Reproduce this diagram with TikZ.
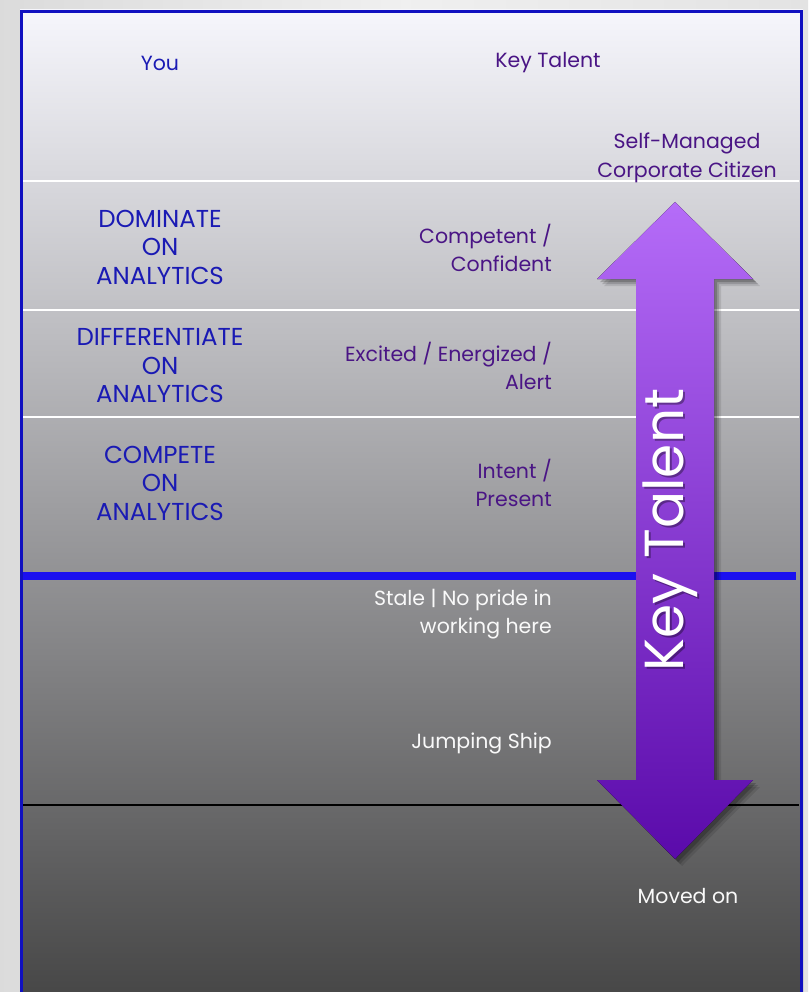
\documentclass[tikz,border=0pt]{standalone}
\usepackage{fontspec}
\setmainfont{Poppins}
\definecolor{bluetxt}{HTML}{1A1AB4}
\definecolor{purtxt}{HTML}{4A1585}
\definecolor{frameblue}{HTML}{1010C0}
\definecolor{linblue}{HTML}{1A10F0}
\definecolor{arrtop}{HTML}{B56CF8}
\definecolor{arrmid}{HTML}{8C18EC}
\definecolor{arrbot}{HTML}{5A0AAA}
\begin{document}
\begin{tikzpicture}[x=1pt,y=-1pt,
  txt/.style={font=\fontsize{20.5}{28.5}\selectfont, inner sep=0pt},
  captxt/.style={font=\fontsize{24.5}{28.5}\selectfont, inner sep=0pt, text=bluetxt, align=center},
  youtxt/.style={txt, text=bluetxt, align=center},
  keytxt/.style={txt, text=purtxt, align=right, anchor=east},
  keyc/.style={txt, text=purtxt, align=center},
  lowtxt/.style={txt, text=white!95!gray, align=right, anchor=east},
  sep/.style={white, line width=2.5pt}]
\useasboundingbox (0,0) rectangle (808,992);
% outer background
\fill[left color=gray!28, right color=gray!22, middle color=gray!12] (0,0) rectangle (808,992);
% panel
\fill[top color={rgb,255:red,246;green,246;blue,252}, bottom color={rgb,255:red,70;green,70;blue,70}] (20,10) rectangle (803,1000);
\draw[frameblue, line width=3pt] (21.5,1000) -- (21.5,11.5) -- (801.5,11.5) -- (801.5,1000);
% separators
\draw[sep] (23,181) -- (799,181);
\draw[sep] (23,310) -- (799,310);
\draw[sep] (23,417) -- (799,417);
\draw[linblue, line width=7.5pt] (23,576) -- (796,576);
\draw[black, line width=1.8pt] (23,805) -- (799,805);
% headers
\node[youtxt] (you) at (160,63) {You};
\node[keyc] (key) at (548,63) {Key Talent};
\node[keyc] (self) at (687,158) {Self-Managed\\Corporate Citizen};
% left column
\node[captxt] (dom) at (160,247) {DOMINATE\\ON\\ANALYTICS};
\node[captxt] (dif) at (160,366) {DIFFERENTIATE\\ON\\ANALYTICS};
\node[captxt] (com) at (160,483) {COMPETE\\ON\\ANALYTICS};
% key talent column
\node[keytxt] (cc) at (552,248) {Competent /\\Confident};
\node[keytxt] (ee) at (552,366) {Excited / Energized /\\Alert};
\node[keytxt] (ip) at (552,483) {Intent /\\Present};
\node[lowtxt] (st) at (552,614) {Stale | No pride in\\working here};
\node[lowtxt] (js) at (552,743) {Jumping Ship};
\node[txt, text=white!95!gray] (mo) at (688,896) {Moved on};
% arrow shadow
\foreach \d/\o in {7/0.10,5/0.15,3/0.2}{
\fill[black, opacity=\o, shift={(\d,\d)}] (675,202) -- (753,279) -- (714,279) -- (714,780) -- (753,780) -- (675,859) -- (597,780) -- (636,780) -- (636,279) -- (597,279) -- cycle;}
% arrow
\fill[top color=arrtop, middle color=arrmid, bottom color=arrbot] (675,202) -- (753,279) -- (714,279) -- (714,780) -- (753,780) -- (675,859) -- (597,780) -- (636,780) -- (636,279) -- (597,279) -- cycle;
\node[rotate=90, text=black, opacity=0.35, font=\fontsize{55}{60}\selectfont, inner sep=0pt] (kts) at (672,532) {Key Talent};
\node[rotate=90, text=white, font=\fontsize{55}{60}\selectfont, inner sep=0pt] (kt) at (670,530) {Key Talent};
\end{tikzpicture}
\end{document}
